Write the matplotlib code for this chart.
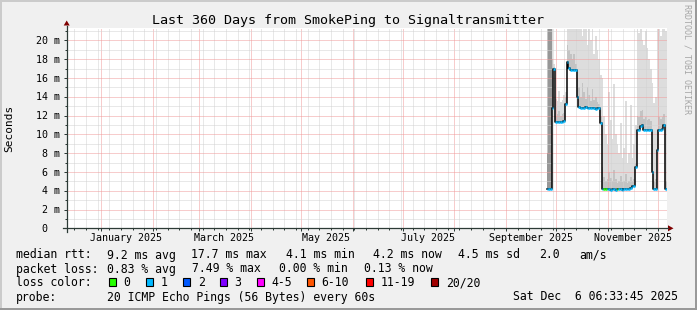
import numpy as np
import pandas as pd
import matplotlib
matplotlib.use("Agg")
import matplotlib.pyplot as plt
import matplotlib.dates as mdates
import matplotlib.transforms as mtransforms
from matplotlib.patches import Rectangle, Polygon
from matplotlib.ticker import MultipleLocator, NullFormatter

plt.rcParams['font.family'] = ['DejaVu Sans Mono']

# --- data -------------------------------------------------------------
end_time = pd.Timestamp("2025-12-06 06:33:45")
start_time = end_time - pd.Timedelta(days=360)
first_sample = "2025-09-25 06:33:45"   # one sample per day from here

median_ms = [4.2, 4.2, 4.2, 12.8, 16.9, 11.3, 11.3, 11.3, 11.3, 11.3,
             11.4, 13.2, 17.7, 17.1, 16.8, 16.8, 16.8, 16.8, 14.0, 12.9,
             12.8, 12.8, 12.8, 12.9, 12.8, 12.8, 12.8, 12.8, 12.8, 12.7,
             12.8, 12.8, 11.2, 4.2, 4.2, 4.2, 4.2, 4.2, 4.1, 4.2,
             4.2, 4.1, 4.2, 4.2, 4.2, 4.1, 4.2, 4.2, 4.2, 4.2,
             4.3, 4.5, 4.5, 6.5, 10.5, 10.5, 10.9, 11.0, 10.5, 10.5,
             10.5, 10.5, 10.5, 6.0, 4.2, 4.2, 8.3, 10.5, 10.5, 10.6,
             11.0, 4.2]

smoke_top_ms = [21.2, 21.2, 21.2, 21.2, 17.5, 13.8, 13.5, 14.6, 13.4, 13.6,
                14.2, 14.5, 21.2, 21.2, 21.2, 21.2, 21.2, 21.2, 21.2, 21.2,
                21.2, 20.5, 21.2, 21.2, 19.5, 21.2, 20.0, 21.2, 18.5, 20.5,
                19.0, 18.0, 16.3, 16.0, 12.0, 10.0, 9.0, 14.5, 11.5, 9.5,
                15.4, 10.0, 9.0, 8.0, 11.2, 7.5, 8.5, 13.5, 7.0, 8.0,
                13.1, 7.5, 9.0, 11.0, 21.2, 20.8, 21.2, 20.0, 19.5, 21.0,
                19.2, 18.0, 17.0, 15.5, 13.3, 14.0, 21.2, 21.2, 20.5, 21.2,
                21.2, 21.0]

smoke_mid_ms = [21.2, 21.2, 21.2, 18.0, 17.2, 12.0, 12.2, 12.5, 12.0, 12.2,
                12.3, 14.0, 19.5, 19.0, 18.5, 18.0, 18.5, 17.5, 16.0, 15.0,
                14.0, 15.5, 14.5, 13.8, 15.0, 14.2, 13.5, 14.8, 13.6, 14.0,
                13.4, 13.2, 12.0, 6.5, 5.5, 5.0, 5.2, 6.0, 5.4, 5.0,
                6.2, 5.2, 4.8, 5.0, 5.6, 4.9, 5.0, 5.8, 4.8, 5.0,
                5.5, 5.0, 5.2, 7.0, 12.0, 11.8, 12.5, 12.6, 11.6, 11.8,
                11.5, 11.6, 11.4, 9.0, 5.0, 5.2, 9.5, 11.8, 11.6, 11.8,
                12.2, 5.0]

# darkest smoke only in the first three days
core_top_ms = [8.0, 21.2, 21.2]

loss_count = [1, 1, 1, 1, 1, 1, 1, 1, 1, 1,
              1, 1, 1, 1, 1, 1, 1, 1, 1, 1,
              1, 1, 1, 1, 1, 1, 1, 1, 1, 1,
              1, 1, 1, 1, 0, 0, 1, 1, 1, 1,
              1, 1, 0, 1, 1, 1, 1, 1, 1, 1,
              1, 1, 1, 1, 1, 1, 1, 1, 1, 1,
              1, 1, 1, 1, 1, 1, 1, 1, 1, 1,
              1, 1]

loss_labels = ["0", "1", "2", "3", "4-5", "6-10", "11-19", "20/20"]
loss_colors = ["#26ff00", "#00b8ff", "#0059ff", "#7e00ff",
               "#ff00ff", "#ff5500", "#ff0000", "#a10000"]
loss_edges = [1, 2, 3, 4, 6, 11, 20]

month_labels = ["January 2025", "March 2025", "May 2025",
                "July 2025", "September 2025", "November 2025"]
month_starts = ["2025-01-01", "2025-03-01", "2025-05-01",
                "2025-07-01", "2025-09-01", "2025-11-01"]

rtt_items = ["median rtt:", "9.2 ms avg", "17.7 ms max", "4.1 ms min",
             "4.2 ms now", "4.5 ms sd", "2.0", "am/s"]
loss_items = ["packet loss:", "0.83 % avg", "7.49 % max", "0.00 % min",
              "0.13 % now"]
probe_text = "20 ICMP Echo Pings (56 Bytes) every 60s"
stamp_text = "Sat Dec  6 06:33:45 2025"
title = "Last 360 Days from SmokePing to Signaltransmitter"

# --- figure -----------------------------------------------------------
W, H = 697, 310
L, R, T, B = 66.5, 666.5, 28.3, 228.3
axis_color = "#2c3a36"

fig = plt.figure(figsize=(W / 100, H / 100), dpi=100, facecolor="#f0f0f0")
ax = fig.add_axes([L / W, 1 - B / H, (R - L) / W, (B - T) / H], facecolor="white")

x = mdates.date2num(pd.date_range(first_sample, periods=len(median_ms), freq="D"))
med = np.array(median_ms)
xs = np.append(x, x[-1] + 1)
med_s = np.append(med, med[-1])
top_s = np.append(smoke_top_ms, smoke_top_ms[-1])
mid_s = np.append(smoke_mid_ms, smoke_mid_ms[-1])

ax.fill_between(xs, med_s, top_s, step="post", color="#dddddd", lw=0, zorder=1)
ax.fill_between(xs, med_s, mid_s, step="post", color="#c3c3c3", lw=0, zorder=1.1)
nc = len(core_top_ms)
ax.fill_between(xs[:nc + 1], np.append(med[:nc], med[nc - 1]),
                np.append(core_top_ms, core_top_ms[-1]),
                step="post", color="#979797", lw=0, zorder=1.2)

ax.step(xs, med_s, where="post", color="black", lw=1.1, zorder=4)
seg_colors = [loss_colors[i] for i in np.digitize(loss_count, loss_edges)]
ax.hlines(med, x, x + 1, colors=seg_colors, lw=1.8, zorder=5)

ax.set_xlim(mdates.date2num(start_time), mdates.date2num(end_time))
ax.set_ylim(0, 21.28)
ax.xaxis_date()
ax.xaxis.set_major_locator(mdates.MonthLocator())
ax.xaxis.set_minor_locator(mdates.WeekdayLocator(byweekday=mdates.MO))
ax.xaxis.set_major_formatter(NullFormatter())
ax.xaxis.set_minor_formatter(NullFormatter())
ax.yaxis.set_major_locator(MultipleLocator(2))
ax.yaxis.set_minor_locator(MultipleLocator(1))
ax.yaxis.set_major_formatter(NullFormatter())
ax.set_axisbelow(False)
ax.grid(which="major", color="#f19a9a", lw=0.72, ls=(0, (1, 1)))
ax.grid(which="minor", color="#d2d2d2", lw=0.72, ls=(0, (1, 1)))
ax.tick_params(which="major", length=2.2, width=0.72, color=axis_color)
ax.tick_params(which="minor", length=1.5, width=0.72, color=axis_color)
for s in ax.spines.values():
    s.set_visible(False)

# x labels centred half a month after the month start
xl_tr = mtransforms.blended_transform_factory(ax.transData, ax.transAxes)
for lab, ms in zip(month_labels, month_starts):
    pos = mdates.date2num(pd.Timestamp(ms) + pd.Timedelta(days=15))
    ax.text(pos, -0.062, lab, transform=xl_tr, ha="center", va="baseline",
            fontsize=7.2)

# y labels, monospace right-aligned at the unit column
yl_tr = mtransforms.offset_copy(
    mtransforms.blended_transform_factory(ax.transAxes, ax.transData),
    fig=fig, y=-3.6 * 0.72, units="points")
for v in range(0, 21, 2):
    lab = f"{v} m" if v else "0  "
    left_px = 60.3 - 6.0 * len(lab)
    ax.text((left_px - L) / (R - L), v, lab, transform=yl_tr,
            ha="left", va="baseline", fontsize=7.2)

# --- overlay in pixel coordinates ---------------------------------------
over = fig.add_axes([0, 0, 1, 1])
over.set_xlim(0, W)
over.set_ylim(H, 0)
over.axis("off")

over.add_patch(Rectangle((0, 0), W, 2, color="#cbcbcb", lw=0))
over.add_patch(Rectangle((0, 0), 2, H, color="#cbcbcb", lw=0))
over.add_patch(Rectangle((0, H - 2), W, 2, color="#999999", lw=0))
over.add_patch(Rectangle((W - 2, 0), 2, H, color="#999999", lw=0))

over.plot([63, 668], [B, B], color=axis_color, lw=0.9)
over.plot([L + 0.2, L + 0.2], [B + 3.5, 25.5], color=axis_color, lw=0.9)
over.add_patch(Polygon([(668, B - 3), (673.5, B), (668, B + 3)], color="#7f0000", lw=0))
over.add_patch(Polygon([(L - 2.8, 25.5), (L + 0.2, 20.5), (L + 3.2, 25.5)], color="#7f0000", lw=0))

over.text(W / 2, 24, title, ha="center", va="baseline", fontsize=9.6)
over.text(9.5, (T + B) / 2, "Seconds", rotation=90, ha="center", va="center", fontsize=8)
over.text(687, 59, "RRDTOOL / TOBI OETIKER", rotation=270, ha="center", va="center",
          fontsize=6, color="#a6a6a6")

fs = 8.31
rtt_x = [16, 107.3, 191, 285.7, 372.7, 458.3, 539.3, 579.3]
for t, px in zip(rtt_items, rtt_x):
    over.text(px, 258.5, t, ha="left", va="baseline", fontsize=fs)
loss_x = [16, 107.3, 192.5, 279.3, 364.5]
for t, px in zip(loss_items, loss_x):
    over.text(px, 272.5, t, ha="left", va="baseline", fontsize=fs)

over.text(16, 286.5, "loss color:", ha="left", va="baseline", fontsize=fs)
box_x = [108.3, 145.7, 182.7, 219.3, 256.7, 306.7, 365.3, 430.7]
for lab, col, px in zip(loss_labels, loss_colors, box_x):
    over.add_patch(Rectangle((px + 0.5, 278.3), 7, 7.4, facecolor=col,
                             edgecolor="black", lw=0.8))
    over.text(px + 15, 286.5, lab, ha="left", va="baseline", fontsize=fs)

over.text(16, 300.5, "probe:", ha="left", va="baseline", fontsize=fs)
over.text(107.3, 300.5, probe_text, ha="left", va="baseline", fontsize=fs)
over.text(513.3, 300.5, stamp_text, ha="left", va="baseline", fontsize=fs)

fig.savefig("out.png", dpi=100, facecolor=fig.get_facecolor())
plt.close(fig)
